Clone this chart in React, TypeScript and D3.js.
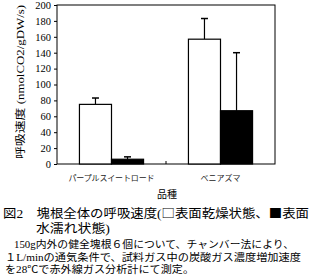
import React, { useEffect, useRef } from 'react';
import * as d3 from 'd3';

const categories = ['パープルスイートロード', 'ベニアズマ'];
const series = ['dry', 'wet'];
const dryValues = [75, 157];
const dryErrors = [8, 26];
const wetValues = [6, 67];
const wetErrors = [3, 73];
const yTicks = [0, 20, 40, 60, 80, 100, 120, 140, 160, 180, 200];

const W = 312;
const H = 279;
const serif = '"Liberation Serif", "Noto Sans CJK JP", serif';
const jp = '"Noto Sans CJK JP", sans-serif';

const App: React.FC = () => {
    const svgRef = useRef<SVGSVGElement>(null);

    useEffect(() => {
        if (!svgRef.current) return;
        const svg = d3.select(svgRef.current);
        svg.selectAll('*').remove();

        const left = 57, right = 275, top = 5, bottom = 164;

        const y = d3.scaleLinear().domain([0, 200]).range([bottom, top]);
        const x0 = d3.scaleBand<string>().domain(categories).range([left, right]).padding(0);
        const x1 = d3.scaleBand<string>().domain(series).range([0, x0.bandwidth()])
            .paddingInner(0).paddingOuter(0.7);

        // frame
        svg.append('rect')
            .attr('x', left).attr('y', top)
            .attr('width', right - left).attr('height', bottom - top)
            .attr('fill', 'none').attr('stroke', '#000').attr('stroke-width', 1);

        // y axis
        const yAxis = d3.axisLeft(y).tickValues(yTicks).tickSize(3).tickPadding(3);
        const ya = svg.append('g').attr('transform', `translate(${left},0)`).call(yAxis);
        ya.select('.domain').remove();
        ya.selectAll('text')
            .attr('font-family', serif)
            .attr('font-size', 10.5)
            .attr('fill', '#000');

        // middle tick on x axis
        svg.append('line')
            .attr('x1', (left + right) / 2).attr('x2', (left + right) / 2)
            .attr('y1', bottom).attr('y2', bottom - 3)
            .attr('stroke', '#000');

        const data = categories.map((c, i) => [
            { cat: c, key: 'dry', v: dryValues[i], e: dryErrors[i] },
            { cat: c, key: 'wet', v: wetValues[i], e: wetErrors[i] },
        ]).flat();

        data.forEach(d => {
            const bx = (x0(d.cat) || 0) + (x1(d.key) || 0);
            const bw = x1.bandwidth();
            const cx = bx + bw / 2;
            // error bar (upper only)
            svg.append('line')
                .attr('x1', cx).attr('x2', cx)
                .attr('y1', y(d.v)).attr('y2', y(d.v + d.e))
                .attr('stroke', '#000').attr('stroke-width', 1.2);
            svg.append('line')
                .attr('x1', cx - 3.5).attr('x2', cx + 3.5)
                .attr('y1', y(d.v + d.e)).attr('y2', y(d.v + d.e))
                .attr('stroke', '#000').attr('stroke-width', 1.5);
            svg.append('rect')
                .attr('x', bx).attr('y', y(d.v))
                .attr('width', bw).attr('height', bottom - y(d.v))
                .attr('fill', d.key === 'dry' ? '#fff' : '#000')
                .attr('stroke', '#000').attr('stroke-width', 1.2);
        });

        // category labels
        const catWidths = [86, 40];
        categories.forEach((c, i) => {
            svg.append('text')
                .attr('x', (x0(c) || 0) + x0.bandwidth() / 2)
                .attr('y', 181)
                .attr('text-anchor', 'middle')
                .attr('font-family', jp)
                .attr('font-size', 8)
                .attr('textLength', catWidths[i])
                .attr('lengthAdjust', 'spacing')
                .attr('fill', '#222')
                .text(c);
        });

        svg.append('text')
            .attr('x', 167).attr('y', 198)
            .attr('text-anchor', 'middle')
            .attr('font-family', jp).attr('font-size', 10)
            .text('品種');

        // y label
        svg.append('text')
            .attr('transform', `translate(24,${82}) rotate(-90)`)
            .attr('text-anchor', 'middle')
            .attr('font-family', serif).attr('font-size', 10.5)
            .attr('textLength', 154)
            .attr('lengthAdjust', 'spacingAndGlyphs')
            .text('呼吸速度 (nmolCO2/gDW/s)');

        // caption
        const title = svg.append('text')
            .attr('x', 3).attr('y', 218)
            .attr('font-family', serif).attr('font-size', 12.5)
            .attr('textLength', 306).attr('lengthAdjust', 'spacingAndGlyphs');
        title.append('tspan').text('図2　塊根全体の呼吸速度(');
        title.append('tspan').attr('font-family', jp).text('□');
        title.append('tspan').text('表面乾燥状態、');
        title.append('tspan').attr('font-family', jp).text('■');
        title.append('tspan').text('表面');
        svg.append('text')
            .attr('x', 36).attr('y', 233)
            .attr('font-family', serif).attr('font-size', 12.5)
            .attr('textLength', 74).attr('lengthAdjust', 'spacingAndGlyphs')
            .text('水濡れ状態)');

        const notes = [
            { t: '150g内外の健全塊根６個について、チャンバー法により、', x: 14, w: 280 },
            { t: '１L/minの通気条件で、試料ガス中の炭酸ガス濃度増加速度', x: 5, w: 296 },
            { t: 'を28℃で赤外線ガス分析計にて測定。', x: 5, w: 189 },
        ];
        notes.forEach((n, i) => {
            svg.append('text')
                .attr('x', n.x).attr('y', 248 + i * 12.5)
                .attr('font-family', serif).attr('font-size', 10)
                .attr('textLength', n.w).attr('lengthAdjust', 'spacingAndGlyphs')
                .text(n.t);
        });
    }, []);

    return (
        <svg
            ref={svgRef}
            width={W}
            height={H}
            style={{ position: 'absolute', left: 0, top: 0, background: '#fff' }}
        />
    );
};

export default App;
